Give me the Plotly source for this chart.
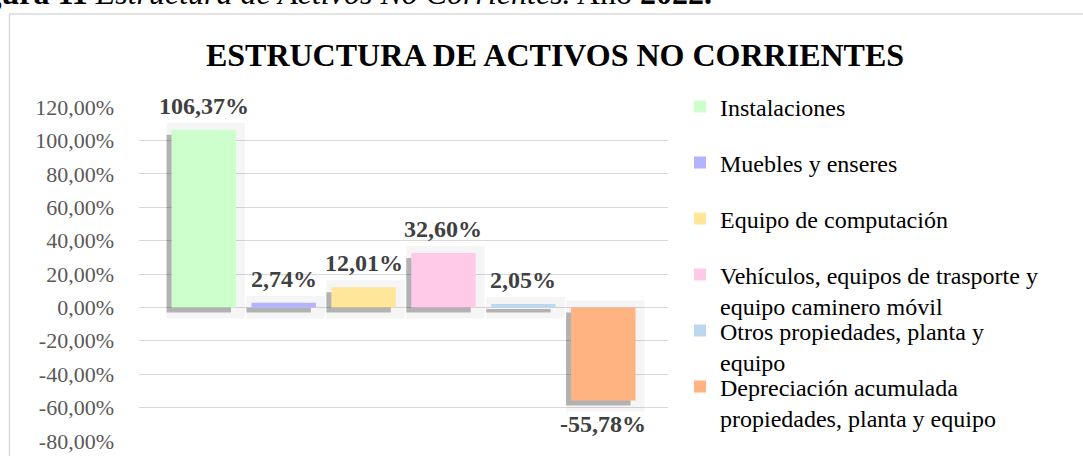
import plotly.graph_objects as go

# ---------------- data ----------------
categories = [
    "Instalaciones",
    "Muebles y enseres",
    "Equipo de computación",
    "Vehículos, equipos de trasporte y equipo caminero móvil",
    "Otros propiedades, planta y equipo",
    "Depreciación acumulada propiedades, planta y equipo",
]
legend_labels = [
    "Instalaciones",
    "Muebles y enseres",
    "Equipo de computación",
    "Vehículos, equipos de trasporte y<br>equipo caminero móvil",
    "Otros propiedades, planta y<br>equipo",
    "Depreciación acumulada<br>propiedades, planta y equipo",
]
values = [1.0637, 0.0274, 0.1201, 0.3260, 0.0205, -0.5578]
colors = ["#ccffcc", "#b3b3ff", "#ffe699", "#ffc9e8", "#bdd7ee", "#ffb380"]

tick_values = [-0.8, -0.6, -0.4, -0.2, 0.0, 0.2, 0.4, 0.6, 0.8, 1.0, 1.2]
tick_labels = ["-80,00%", "-60,00%", "-40,00%", "-20,00%", "0,00%", "20,00%",
               "40,00%", "60,00%", "80,00%", "100,00%", "120,00%"]

title_text = "ESTRUCTURA DE ACTIVOS NO CORRIENTES"
caption_text = "<b>Figura 11</b> <i>Estructura de Activos No Corrientes.</i> Año <b>2022.</b>"

# ---------------- geometry helpers ----------------
W, H = 1083, 456
PL, PR = 139, 668          # plot area left/right (px)
PT, PB = 107, 441          # plot area top/bottom (px)
YMIN, YMAX = -0.8, 1.2
XMIN, XMAX = -0.811, 5.81
ppy = (PB - PT) / (YMAX - YMIN)
ppx = (PR - PL) / (XMAX - XMIN)
dy = lambda p: p / ppy
dx = lambda p: p / ppx
px2paper_x = lambda p: (p - PL) / (PR - PL)
px2paper_y = lambda p: (PB - p) / (PB - PT)

BW = 0.807
FONT = "Liberation Serif, Times New Roman, serif"

fig = go.Figure()

lo = [min(0, v) for v in values]
hi = [max(0, v) for v in values]

# faint halo behind bars
fig.add_trace(go.Bar(
    x=categories, y=[(h + dy(7)) - (l - dy(11)) for l, h in zip(lo, hi)],
    base=[l - dy(11) for l in lo],
    width=BW + dx(14), offset=-BW / 2 - dx(5),
    marker=dict(color="rgba(0,0,0,0.04)", line=dict(width=0)),
    showlegend=False, hoverinfo="skip",
))
# drop shadow
fig.add_trace(go.Bar(
    x=categories, y=[h - l for l, h in zip(lo, hi)],
    base=[l - dy(5) for l in lo],
    width=BW, offset=-BW / 2 - dx(5),
    marker=dict(color="rgba(0,0,0,0.27)", line=dict(width=0)),
    showlegend=False, hoverinfo="skip",
))

# main bars, one trace per category (own legend each)
for i, (cat, lab, v, c) in enumerate(zip(categories, legend_labels, values, colors)):
    fig.add_trace(go.Bar(
        x=[cat], y=[v], name=lab,
        width=BW, offset=-BW / 2,
        marker=dict(color=c, line=dict(width=0)),
        legend="legend" if i == 0 else f"legend{i+1}",
    ))

# data labels
for cat, v in zip(categories, values):
    txt = f"{v*100:.2f}%".replace(".", ",")
    fig.add_annotation(
        x=cat, y=v, xref="x", yref="y", text=f"<b>{txt}</b>", showarrow=False,
        yanchor="bottom" if v >= 0 else "top",
        yshift=9 if v >= 0 else -9,
        font=dict(family=FONT, size=24, color="#404040"),
    )

# caption (cut at top, as in the reference)
fig.add_annotation(
    x=px2paper_x(-45), y=px2paper_y(13), xref="paper", yref="paper",
    xanchor="left", yanchor="bottom", text=caption_text, showarrow=False,
    font=dict(family=FONT, size=32, color="black"),
)

# frame (top & left edges visible)
fig.add_shape(type="line", xref="paper", yref="paper",
              x0=px2paper_x(9.5), x1=px2paper_x(1200), y0=px2paper_y(14), y1=px2paper_y(14),
              line=dict(color="#d9d9d9", width=1.5), layer="below")
fig.add_shape(type="line", xref="paper", yref="paper",
              x0=px2paper_x(9.5), x1=px2paper_x(9.5), y0=px2paper_y(14), y1=px2paper_y(600),
              line=dict(color="#d9d9d9", width=1.5), layer="below")

# legends (container-referenced so they do not push margins)
centers = [108.7, 164.7, 220.7, 276.7, 332.7, 388.7]
legend_layouts = {}
for i, cy in enumerate(centers):
    key = "legend" if i == 0 else f"legend{i+1}"
    legend_layouts[key] = dict(
        x=680 / W, y=1 - (cy - 24.3) / H, xref="container", yref="container",
        xanchor="left", yanchor="top", valign="top",
        bgcolor="rgba(0,0,0,0)", borderwidth=0,
        font=dict(family=FONT, size=24, color="black"),
    )

fig.update_layout(
    width=W, height=H, autosize=False,
    margin=dict(l=PL, r=W - PR, t=PT, b=H - PB, pad=0, autoexpand=False),
    paper_bgcolor="white", plot_bgcolor="white",
    barmode="overlay",
    title=dict(text=f"<b>{title_text}</b>", x=555 / W, y=1 - 54.5 / H,
               xref="container", yref="container", xanchor="center", yanchor="middle",
               font=dict(family=FONT, size=32, color="black")),
    xaxis=dict(range=[XMIN, XMAX], showticklabels=False, showgrid=False,
               zeroline=False, showline=False, ticks="", automargin=False),
    yaxis=dict(range=[YMIN - 0.0005, YMAX + 0.0005], tickvals=tick_values, ticktext=tick_labels,
               gridcolor="#d9d9d9", gridwidth=1.3, zeroline=False, showline=False,
               ticks="", ticklabelstandoff=24, automargin=False,
               tickfont=dict(family=FONT, size=22, color="#595959")),
    **legend_layouts,
)

fig.write_html(
    "out.html",
    config={"displayModeBar": False},
    post_script="document.body.style.margin='0px';document.body.style.overflow='hidden';",
)
